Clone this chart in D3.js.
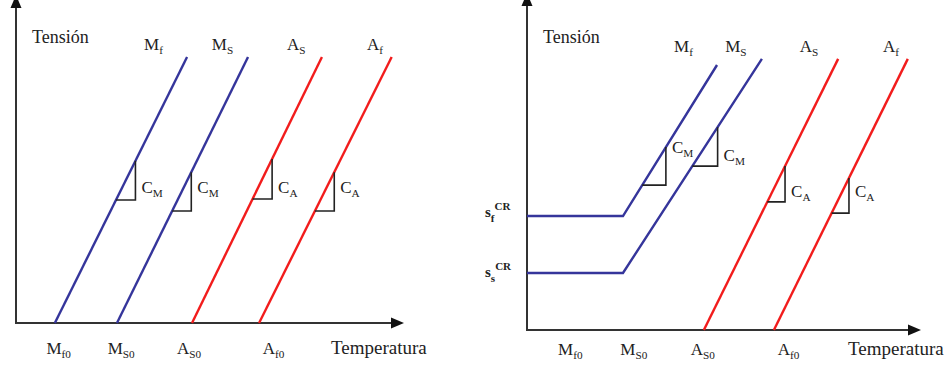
<!DOCTYPE html>
<html>
<head>
<meta charset="utf-8">
<script src="https://cdn.jsdelivr.net/npm/d3@7"></script>
<style>
  body { margin: 0; background: #fff; }
  text { font-family: "Liberation Serif", "Times New Roman", serif; fill: #222; }
</style>
</head>
<body>
<svg width="950" height="366"></svg>
<script>
'use strict';

// Data (temperature and stress in arbitrary units 0..100)
var lineNames = ["M", "M", "A", "A"];
var lineSubs = ["f", "S", "S", "f"];
var lineColors = ["blue", "blue", "red", "red"];

// left panel: every line starts on the temperature axis
var leftStart = [10.2, 26.5, 46.2, 63.8];
var leftEnd = [44.9, 60.9, 80.3, 98.6];
var leftTop = 85;
var leftTri = [[39.3, 51.8], [35.8, 48.2], [39.6, 52.4], [35.8, 48.2]];
var leftTriLabel = [41.5, 41.5, 41.5, 41.5];
var leftNameAt = [33.6, 51.4, 71.1, 92.1];
var leftNameY = 87.2;

// right panel: martensite lines have a critical-stress plateau
var sigmaCR = [35.4, 17.7];        // s_f^CR, s_s^CR
var kneeTemp = 24.8;
var rightStart = [null, null, 45.7, 63.8];
var rightEnd = [49.1, 60.7, 80.4, 98.4];
var rightTop = [82.3, 84.2, 84.2, 84.2];
var rightTri = [[45.0, 56.8], [50.9, 63.0], [39.8, 50.9], [36.3, 47.2]];
var rightTriLabel = [55.0, 52.5, 41.3, 41.3];
var rightNameAt = [38.0, 51.2, 70.5, 92.0];
var rightNameY = 86.3;

// temperature "ticks" below the axis
var tickTemps = [11.2, 27.6, 45.4, 67.6];
var tickNames = ["M", "M", "A", "A"];
var tickSubs = ["f0", "S0", "S0", "f0"];
var slopeNames = ["M", "M", "A", "A"];

var colors = { blue: "#35359b", red: "#f21c1c" };

var svg = d3.select("svg");

function panel(ox, oy, w, h, below) {
  var g = svg.append("g");
  var x = d3.scaleLinear().domain([0, 100]).range([ox, ox + w]);
  var y = d3.scaleLinear().domain([0, 100]).range([oy, oy - h]);
  return {g: g, x: x, y: y, ox: ox, oy: oy, w: w, h: h, below: below};
}

function drawAxes(p) {
  var g = p.g;
  g.append("line").attr("x1", p.ox).attr("y1", p.oy).attr("x2", p.ox).attr("y2", p.oy - p.h - 6)
    .attr("stroke", "#333").attr("stroke-width", 2);
  g.append("line").attr("x1", p.ox - 1).attr("y1", p.oy).attr("x2", p.ox + p.w - 6).attr("y2", p.oy)
    .attr("stroke", "#333").attr("stroke-width", 2);
  // arrow heads
  var ty = p.oy - p.h - 15;
  g.append("path").attr("d", "M" + p.ox + "," + ty + "L" + (p.ox - 5.5) + "," + (ty + 13) + "L" + (p.ox + 5.5) + "," + (ty + 13) + "Z")
    .attr("fill", "#111");
  var tx = p.ox + p.w + 7;
  g.append("path").attr("d", "M" + tx + "," + p.oy + "L" + (tx - 13) + "," + (p.oy - 5.5) + "L" + (tx - 13) + "," + (p.oy + 5.5) + "Z")
    .attr("fill", "#111");
  g.append("text").attr("x", p.ox + 16).attr("y", 43).attr("font-size", 18).text("Tensión");
}

function subText(g, x, y, main, sub, size, anchor) {
  var t = g.append("text").attr("x", x).attr("y", y).attr("font-size", size)
    .attr("text-anchor", anchor || "start");
  t.append("tspan").text(main);
  t.append("tspan").attr("dy", 4).attr("font-size", size * 0.66).text(sub);
  return t;
}

function lineXAt(pts, s) {
  // temperature on a polyline at stress s (on the sloped part)
  for (var i = 1; i < pts.length; i++) {
    var a = pts[i - 1], b = pts[i];
    if (a[1] != b[1] && s >= Math.min(a[1], b[1]) && s <= Math.max(a[1], b[1])) {
      return a[0] + (s - a[1]) / (b[1] - a[1]) * (b[0] - a[0]);
    }
  }
  return null;
}

function drawPanel(p, lines, tris, triLabel, nameAt, nameY) {
  var gen = d3.line().x(function(d){ return p.x(d[0]); }).y(function(d){ return p.y(d[1]); });
  p.g.append("g").selectAll("path")
    .data(lines)
    .enter()
    .append("path")
    .attr("d", function(d){ return gen(d); })
    .attr("fill", "none")
    .attr("stroke", function(d, i){ return colors[lineColors[i]]; })
    .attr("stroke-width", 2.4);

  // slope triangles
  tris.forEach(function(t, i){
    var xHi = lineXAt(lines[i], t[1]);
    var xLo = lineXAt(lines[i], t[0]);
    var pts = [[xHi, t[1]], [xHi, t[0]], [xLo, t[0]]];
    p.g.append("path").attr("d", gen(pts))
      .attr("fill", "none").attr("stroke", "#222").attr("stroke-width", 1.6);
    subText(p.g, p.x(xHi) + 6, p.y(triLabel[i]), "C", slopeNames[i], 17);
  });

  // line names
  nameAt.forEach(function(v, i){
    subText(p.g, p.x(v), p.y(nameY), lineNames[i], lineSubs[i], 17);
  });

  // temperature ticks
  tickTemps.forEach(function(v, i){
    subText(p.g, p.x(v), p.oy + p.below, tickNames[i], tickSubs[i], 17, "middle");
  });
  p.g.append("text").attr("x", p.ox + p.w - 66).attr("y", p.oy + p.below)
    .attr("font-size", 19).text("Temperatura");
}

// left panel
var L = panel(16, 323, 381, 313, 31);
drawAxes(L);
var leftLines = leftStart.map(function(s, i){ return [[s, 0], [leftEnd[i], leftTop]]; });
drawPanel(L, leftLines, leftTri, leftTriLabel, leftNameAt, leftNameY);

// right panel
var R = panel(527, 330, 387, 322, 25);
drawAxes(R);
var rightLines = rightEnd.map(function(e, i){
  if (rightStart[i] == null) {
    return [[0, sigmaCR[i]], [kneeTemp, sigmaCR[i]], [e, rightTop[i]]];
  }
  return [[rightStart[i], 0], [e, rightTop[i]]];
});
drawPanel(R, rightLines, rightTri, rightTriLabel, rightNameAt, rightNameY);

// critical stress labels
var crSubs = ["f", "s"];
sigmaCR.forEach(function(v, i){
  var t = R.g.append("text").attr("x", R.ox - 42).attr("y", R.y(v) + 1 + i * 3)
    .attr("font-size", 15).attr("font-weight", "bold");
  t.append("tspan").text("s");
  t.append("tspan").attr("dy", 5).attr("font-size", 11).text(crSubs[i]);
  t.append("tspan").attr("dy", -12).attr("font-size", 11).text("CR");
});
</script>
</body>
</html>
